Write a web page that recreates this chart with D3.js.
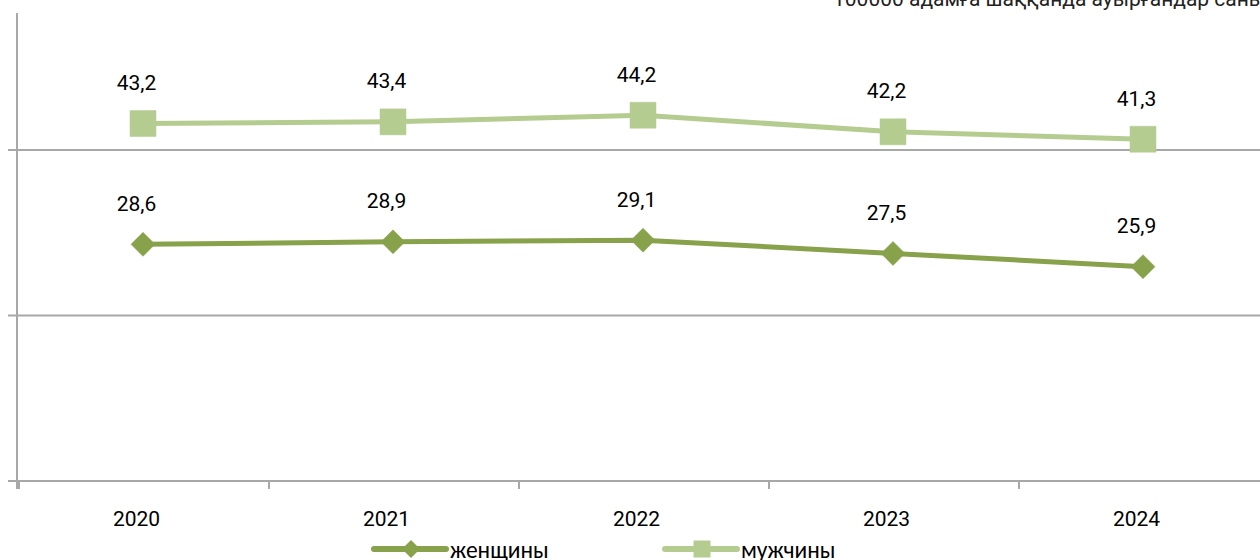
<!DOCTYPE html>
<html><head><meta charset="utf-8">
<script src="https://cdn.jsdelivr.net/npm/d3@7"></script>
<style>body{margin:0;background:#fff}svg{display:block}</style>
</head><body>
<svg id="c" width="1260" height="560"></svg>
<script>
const years = ["2020","2021","2022","2023","2024"];
const women = [28.6, 28.9, 29.1, 27.5, 25.9];
const men = [43.2, 43.4, 44.2, 42.2, 41.3];
const yTicks = [0, 20, 40];
const title = "100000 адамға шаққанда ауырғандар саны";
const seriesNames = ["женщины", "мужчины"];

const svg = d3.select("#c");
const font = "Roboto, 'Liberation Sans', sans-serif";
const cWomen = "#87A24A", cMen = "#B5CC90", grid = "#A8A8A8";
const labelShift = -6.5;

const x = d3.scaleBand().domain(years).range([18, 1268]);
const y = d3.scaleLinear().domain([0, 60]).range([481, -15.5]);
const cx = d => x(d) + x.bandwidth() / 2;

// gridlines
svg.append("g").selectAll("line").data(yTicks.filter(v => v > 0)).join("line")
  .attr("x1", 8).attr("x2", 1260).attr("y1", d => y(d)).attr("y2", d => y(d))
  .attr("stroke", grid).attr("stroke-width", 2);
// left axis
svg.append("line").attr("x1", 17).attr("x2", 17).attr("y1", 13).attr("y2", 489)
  .attr("stroke", grid).attr("stroke-width", 2);
// bottom axis
svg.append("line").attr("x1", 8).attr("x2", 1260).attr("y1", y(0)).attr("y2", y(0))
  .attr("stroke", grid).attr("stroke-width", 2);
// x ticks
svg.append("g").selectAll("line").data(years).join("line")
  .attr("x1", d => x(d) + 1).attr("x2", d => x(d) + 1).attr("y1", y(0)).attr("y2", 489)
  .attr("stroke", grid).attr("stroke-width", 2);
// x labels
svg.append("g").selectAll("text").data(years).join("text")
  .attr("x", d => cx(d) + labelShift).attr("y", 526).attr("text-anchor", "middle")
  .attr("font-family", font).attr("font-size", 21).attr("fill", "#000").text(d => d);

// title (cropped)
svg.append("text").attr("x", 833).attr("y", 6).attr("font-family", font)
  .attr("font-size", 21).attr("fill", "#222").text(title);

const line = d3.line().x((d, i) => cx(years[i])).y(d => y(d));

function drawSeries(vals, color, shape) {
  const g = svg.append("g");
  g.append("path").datum(vals).attr("d", line).attr("fill", "none")
    .attr("stroke", color).attr("stroke-width", 5).attr("stroke-linejoin", "round");
  g.selectAll(".m").data(vals).join("path")
    .attr("transform", (d, i) => `translate(${cx(years[i])},${y(d)})`)
    .attr("d", shape === "square"
      ? d3.symbol(d3.symbolSquare, 26 * 26)()
      : "M0,-12L12,0L0,12L-12,0Z")
    .attr("fill", color)
    .attr("stroke", color).attr("stroke-width", 0.5);
  g.selectAll("text").data(vals).join("text")
    .attr("x", (d, i) => cx(years[i]) + labelShift).attr("y", d => y(d) - 33.5)
    .attr("text-anchor", "middle").attr("font-family", font).attr("font-size", 21)
    .attr("fill", "#000").text(d => String(d).replace(".", ","));
}
drawSeries(men, cMen, "square");
drawSeries(women, cWomen, "diamond");

// legend
const lg = [
  {name: seriesNames[0], color: cWomen, shape: "diamond", x0: 374},
  {name: seriesNames[1], color: cMen, shape: "square", x0: 665}
];
lg.forEach(l => {
  const ly = 549;
  svg.append("line").attr("x1", l.x0).attr("x2", l.x0 + 72).attr("y1", ly).attr("y2", ly)
    .attr("stroke", l.color).attr("stroke-width", 6).attr("stroke-linecap", "round");
  svg.append("path").attr("transform", `translate(${l.x0 + 37},${ly})`)
    .attr("d", l.shape === "square" ? d3.symbol(d3.symbolSquare, 17 * 17)() : "M0,-9L9,0L0,9L-9,0Z")
    .attr("fill", l.color);
  svg.append("text").attr("x", l.x0 + 76).attr("y", 558).attr("font-family", "Carlito, 'Open Sans', sans-serif")
    .attr("font-size", 23.5).attr("fill", "#000").text(l.name);
});
</script>
</body></html>
